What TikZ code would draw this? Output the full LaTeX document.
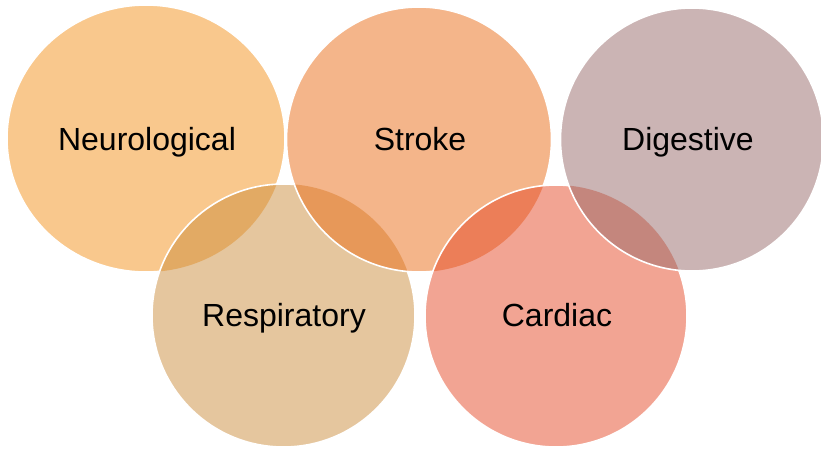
\documentclass[tikz,border=0pt]{standalone}
\usepackage{fontspec}
\setmainfont{Liberation Sans}
\definecolor{cNeuro}{HTML}{F3911B}
\definecolor{cResp}{HTML}{CB8D3D}
\definecolor{cStroke}{HTML}{E96B15}
\definecolor{cCard}{HTML}{E54927}
\definecolor{cDig}{HTML}{976969}
\begin{document}
\begin{tikzpicture}[x=1pt,y=-1pt,
  disc/.style={fill opacity=0.5},
  rim/.style={draw=white, line width=1.6pt},
  lbl/.style={font=\fontsize{32}{38}\selectfont, anchor=base, text=black, inner sep=0pt}]
\useasboundingbox (0,0) rectangle (821,448);
% Neurological
\fill[cNeuro, disc] (146,138.5) ellipse [x radius=139, y radius=133.5];
\begin{scope}[even odd rule]
  \clip (-20,-20) rectangle (841,468) (283.5,315.5) circle [radius=131.5];
  \draw[rim] (146,138.5) ellipse [x radius=139, y radius=133.5];
\end{scope}
% Respiratory
\fill[cResp, disc] (283.5,315.5) circle [radius=131.5];
\begin{scope}[even odd rule]
  \clip (-20,-20) rectangle (841,468) (419,139.5) circle [radius=132.5];
  \draw[rim] (283.5,315.5) circle [radius=131.5];
\end{scope}
% Stroke
\fill[cStroke, disc] (419,139.5) circle [radius=132.5];
\begin{scope}[even odd rule]
  \clip (-20,-20) rectangle (841,468) (556,316) circle [radius=131];
  \draw[rim] (419,139.5) circle [radius=132.5];
\end{scope}
% Cardiac
\fill[cCard, disc] (556,316) circle [radius=131];
\begin{scope}[even odd rule]
  \clip (-20,-20) rectangle (841,468) (692,139.5) circle [radius=131.5];
  \draw[rim] (556,316) circle [radius=131];
\end{scope}
% Digestive
\fill[cDig, disc] (692,139.5) circle [radius=131.5];
\draw[rim] (692,139.5) circle [radius=131.5];
% labels
\node[lbl] (neuro) at (147,150.5) {Neurological};
\node[lbl] (stroke) at (420,150.5) {Stroke};
\node[lbl] (digest) at (688,150.5) {Digestive};
\node[lbl] (resp) at (284,326.5) {Respiratory};
\node[lbl] (card) at (557,326.5) {Cardiac};
\end{tikzpicture}
\end{document}
